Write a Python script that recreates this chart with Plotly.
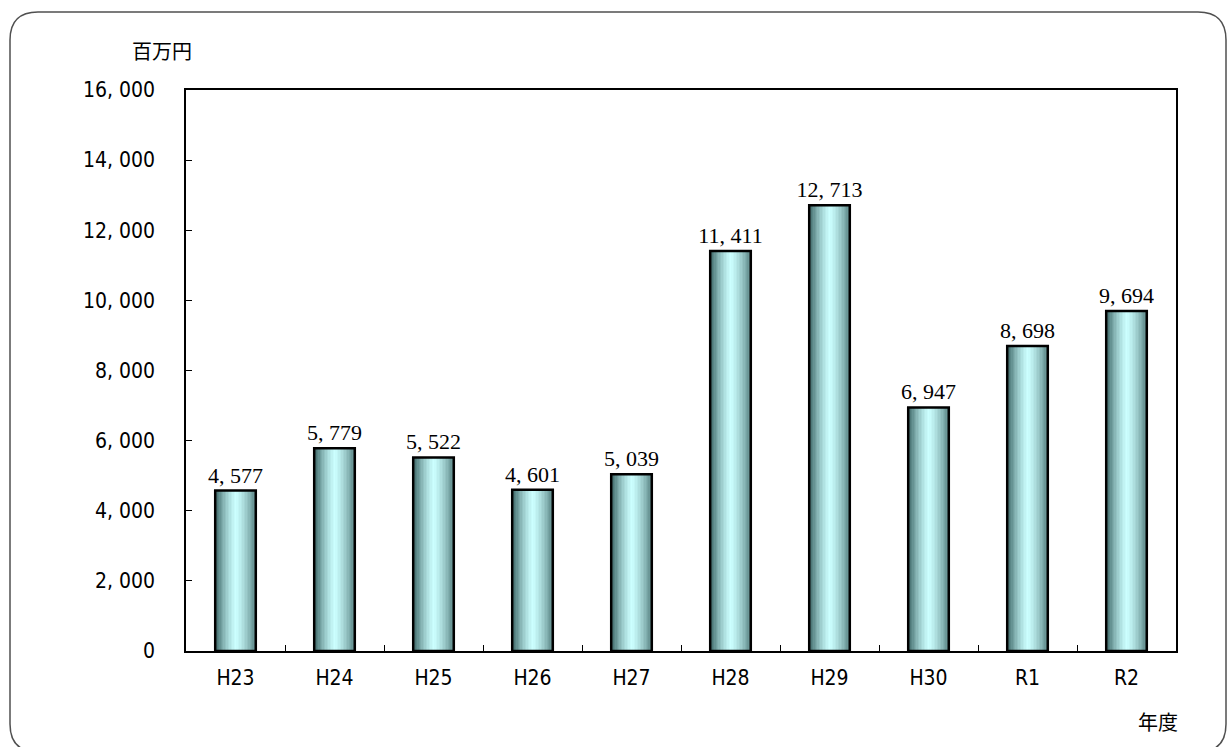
import plotly.graph_objects as go

categories = ["H23", "H24", "H25", "H26", "H27", "H28", "H29", "H30", "R1", "R2"]
values = [4577, 5779, 5522, 4601, 5039, 11411, 12713, 6947, 8698, 9694]
value_labels = ["4, 577", "5, 779", "5, 522", "4, 601", "5, 039", "11, 411", "12, 713", "6, 947", "8, 698", "9, 694"]
y_tickvals = [0, 2000, 4000, 6000, 8000, 10000, 12000, 14000, 16000]
y_ticktext = ["0", "2, 000", "4, 000", "6, 000", "8, 000", "10, 000", "12, 000", "14, 000", "16, 000"]

W, H = 1227, 747
ML, MR, MT, MB = 186, 51, 90, 96
PW, PH = W - ML - MR, H - MT - MB

BW = 0.41
N = 28
dark_l = (66, 108, 108)
dark_r = (86, 128, 128)
light = (204, 255, 255)

fig = go.Figure()
for i in range(N):
    t = (i + 0.5) / N
    d = dark_l if t < 0.52 else dark_r
    k = min(1.0, abs(t - 0.52) / 0.5) ** 1.3
    c = tuple(int(round(light[j] + (d[j] - light[j]) * k)) for j in range(3))
    fig.add_trace(go.Bar(
        x=categories, y=values, width=BW / N, offset=-BW / 2 + i * BW / N,
        marker=dict(color="rgb(%d,%d,%d)" % c, line=dict(width=0)),
        showlegend=False, hoverinfo="skip"))

fig.add_trace(go.Bar(
    x=categories, y=values, width=BW, offset=-BW / 2,
    marker=dict(color="rgba(0,0,0,0)", line=dict(color="black", width=2.5)),
    text=value_labels, textposition="outside", cliponaxis=False, constraintext="none",
    textfont=dict(family="Liberation Serif, DejaVu Serif, serif", size=22, color="black"),
    showlegend=False))

def px(x):
    return (x - ML) / PW

def py(y):
    return (H - MB - y) / PH

# rounded outer frame in pixel coordinates converted to paper
x0, y0, x1, y1, r = 10, 12, 1226, 752, 28
path = (f"M {px(x0)},{py(y0 + r)} Q {px(x0)},{py(y0)} {px(x0 + r)},{py(y0)} "
        f"L {px(x1 - r)},{py(y0)} Q {px(x1)},{py(y0)} {px(x1)},{py(y0 + r)} "
        f"L {px(x1)},{py(y1 - r)} Q {px(x1)},{py(y1)} {px(x1 - r)},{py(y1)} "
        f"L {px(x0 + r)},{py(y1)} Q {px(x0)},{py(y1)} {px(x0)},{py(y1 - r)} Z")
fig.add_shape(type="path", path=path, xref="paper", yref="paper",
              line=dict(color="#505050", width=1.5), layer="below")

fig.add_annotation(text="百万円", x=px(162), y=py(50), xref="paper", yref="paper",
                   xanchor="center", yanchor="middle",
                   showarrow=False, font=dict(family="Noto Sans CJK JP", size=20, color="black"))
fig.add_annotation(text="年度", x=px(1158), y=py(721), xref="paper", yref="paper",
                   xanchor="center", yanchor="middle",
                   showarrow=False, font=dict(family="Noto Sans CJK JP", size=20, color="black"))

tickfont = dict(family="DejaVu Sans Condensed", size=21, color="black")
fig.update_layout(
    width=W, height=H, barmode="overlay",
    margin=dict(l=ML, r=MR, t=MT, b=MB, pad=0),
    paper_bgcolor="white", plot_bgcolor="white",
    xaxis=dict(type="category", tickson="boundaries", ticks="inside", ticklen=6,
               tickcolor="black", showline=True, linecolor="black", linewidth=1.5,
               mirror=True, showgrid=False, tickfont=tickfont, ticklabelstandoff=7,
               range=[-0.5, len(categories) - 0.5]),
    yaxis=dict(range=[0, 16000], tickvals=y_tickvals, ticktext=y_ticktext,
               ticks="inside", ticklen=6, tickcolor="black", showline=True,
               linecolor="black", linewidth=1.5, mirror=True, showgrid=False,
               zeroline=False, tickfont=tickfont, ticklabelstandoff=25),
)
fig.write_html("out.html", config={"displayModeBar": False},
               post_script="document.body.style.margin='0px';document.body.style.overflow='hidden';")
